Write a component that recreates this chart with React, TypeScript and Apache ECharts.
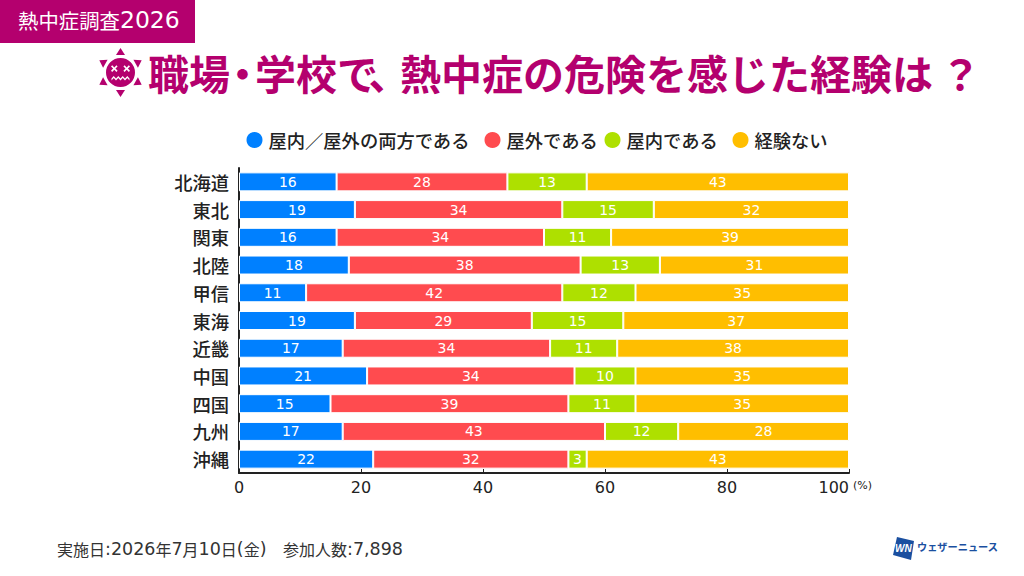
import React, { useEffect, useRef } from "react";
import * as echarts from "echarts";

const regions = ["北海道", "東北", "関東", "北陸", "甲信", "東海", "近畿", "中国", "四国", "九州", "沖縄"];
const both = [16, 19, 16, 18, 11, 19, 17, 21, 15, 17, 22];
const outdoor = [28, 34, 34, 38, 42, 29, 34, 34, 39, 43, 32];
const indoor = [13, 15, 11, 13, 12, 15, 11, 10, 11, 12, 3];
const none = [43, 32, 39, 31, 35, 37, 38, 35, 35, 28, 43];
const seriesNames = ["屋内／屋外の両方である", "屋外である", "屋内である", "経験ない"];
const seriesColors = ["#0080ff", "#ff4b4f", "#aee000", "#ffbe00"];
const legendLefts = [244.5, 482.5, 602.5, 730.5];
const JP = '"Noto Sans CJK JP", "Noto Sans", sans-serif';
const NUM = '"DejaVu Sans", "Noto Sans CJK JP", sans-serif';
const MAGENTA = "#b4006e";
const INK = "#222222";

const faceD =
  "M-14.5 0A14.5 14.5 0 1 0 14.5 0A14.5 14.5 0 1 0 -14.5 0Z" +
  "M-9.5 -6L-8.3 -7.2L-6.2 -5.1L-4.1 -7.2L-2.9 -6L-5 -3.9L-2.9 -1.8L-4.1 -0.6L-6.2 -2.7L-8.3 -0.6L-9.5 -1.8L-7.4 -3.9Z" +
  "M2.9 -6L4.1 -7.2L6.2 -5.1L8.3 -7.2L9.5 -6L7.4 -3.9L9.5 -1.8L8.3 -0.6L6.2 -2.7L4.1 -0.6L2.9 -1.8L5 -3.9Z" +
  "M-9 6L-6.8 3.6L-4.5 6L-2.2 3.6L0 6L2.2 3.6L4.5 6L6.8 3.6L9 6L9 8L6.8 5.6L4.5 8L2.2 5.6L0 8L-2.2 5.6L-4.5 8L-6.8 5.6L-9 8Z" +
  "M0 -13L-1.5 -10A1.7 1.7 0 1 0 1.5 -10Z" +
  "M-11 2.5L-12.5 5.5A1.7 1.7 0 1 0 -9.5 5.5Z";
echarts.graphic.registerShape("sunFaceD", (echarts.graphic as any).extendPath(faceD, {}));

const rays = [0, 60, 120, 180, 240, 300];
const titleText = "{a|職場}{dot|・}{a|学校で}{comma|、}{a|熱中症の危険を感じた経験は}{q|？}";
const titleBase = { fontFamily: JP, fontSize: 41, fontWeight: "bold", fill: MAGENTA, color: MAGENTA };
const titleRich = {
  a: titleBase,
  dot: { ...titleBase, width: 25, align: "center" },
  comma: { ...titleBase, width: 22, align: "left" },
  q: { ...titleBase, width: 48, align: "right" },
};
const richStyles = (size: number, digitSize: number, color: string) => ({
  k: { fontFamily: JP, fontSize: size, fontWeight: 400, fill: color, color },
  d: { fontFamily: NUM, fontSize: digitSize, fontWeight: 400, fill: color, color },
});

export default function App() {
  const ref = useRef<HTMLDivElement>(null);
  useEffect(() => {
    document.body.style.margin = "0";
    const chart = echarts.init(ref.current!, undefined, { renderer: "svg" });
    const values = [both, outdoor, indoor, none];
    chart.setOption({
      animation: false,
      backgroundColor: "#ffffff",
      textStyle: { fontFamily: JP },
      grid: { left: 239, top: 168, width: 610, height: 305, containLabel: false },
      legend: seriesNames.map((name, i) => ({
        top: 130,
        left: legendLefts[i],
        itemWidth: 18,
        itemHeight: 18,
        icon: "circle",
        padding: 0,
        textStyle: { fontFamily: JP, fontSize: 18.3, color: INK, fontWeight: 500 },
        data: [name],
      })),
      xAxis: {
        type: "value",
        min: 0,
        max: 100,
        interval: 20,
        splitLine: { show: false },
        axisLine: { show: true, lineStyle: { color: INK, width: 2 } },
        axisTick: { show: true, inside: true, length: 4, lineStyle: { color: INK, width: 1 } },
        axisLabel: { fontFamily: NUM, fontSize: 16, color: INK, margin: 6, alignMaxLabel: "right" },
      },
      yAxis: {
        type: "category",
        inverse: true,
        data: regions,
        axisLine: { show: true, lineStyle: { color: INK, width: 2 } },
        axisTick: { show: false },
        axisLabel: { fontFamily: JP, fontSize: 18.3, color: INK, fontWeight: 500, margin: 10 },
      },
      series: seriesNames.map((name, i) => ({
        name,
        type: "bar",
        stack: "all",
        barWidth: 19,
        data: values[i],
        itemStyle: { color: seriesColors[i], borderColor: "#ffffff", borderWidth: 1 },
        label: { show: true, position: "inside", color: "#ffffff", fontFamily: NUM, fontSize: 14 },
      })),
      graphic: [
        { type: "rect", x: 0, y: 0, shape: { width: 195, height: 43 }, style: { fill: MAGENTA } },
        {
          type: "text",
          x: 18,
          y: 8,
          style: { text: "{k|熱中症調査}{d|2026}", rich: richStyles(20.4, 23.5, "#ffffff"), fill: "#ffffff" },
        },
        {
          type: "group",
          x: 120.5,
          y: 72.5,
          children: [
            ...rays.map((deg) => ({
              type: "polygon",
              rotation: (deg * Math.PI) / 180,
              shape: { points: [[-4.5, -17.5], [4.5, -17.5], [0, -24.5]] },
              style: { fill: MAGENTA },
            })),
            { type: "sunFaceD", style: { fill: MAGENTA, fillRule: "evenodd" } },
          ],
        },
        { type: "text", x: 148, y: 51, style: { text: titleText, rich: titleRich, fill: MAGENTA } },
        { type: "text", x: 853, y: 480, style: { text: "(%)", fill: INK, font: `11px ${NUM}` } },
        {
          type: "text",
          x: 57,
          y: 540,
          style: {
            text: "{k|実施日}{d|:2026}{k|年}{d|7}{k|月}{d|10}{k|日}{d|(}{k|金}{d|)}",
            rich: richStyles(16, 17.5, "#333333"),
            fill: "#333333",
          },
        },
        {
          type: "text",
          x: 283,
          y: 540,
          style: {
            text: "{k|参加人数}{d|:7,898}",
            rich: richStyles(16, 17.5, "#333333"),
            fill: "#333333",
          },
        },
        {
          type: "polygon",
          shape: { points: [[897, 537], [914, 541], [911, 560], [893, 555]] },
          style: { fill: "#1a4fa0" },
        },
        { type: "text", x: 895, y: 543, style: { text: "WN", fill: "#fff", font: `italic bold 10px "Liberation Sans"` } },
        { type: "text", x: 917, y: 541, style: { text: "ウェザーニュース", fill: "#1a4fa0", font: `bold 10.2px ${JP}` } },
      ],
    });
    return () => chart.dispose();
  }, []);
  return <div ref={ref} style={{ width: 1024, height: 576 }} />;
}
